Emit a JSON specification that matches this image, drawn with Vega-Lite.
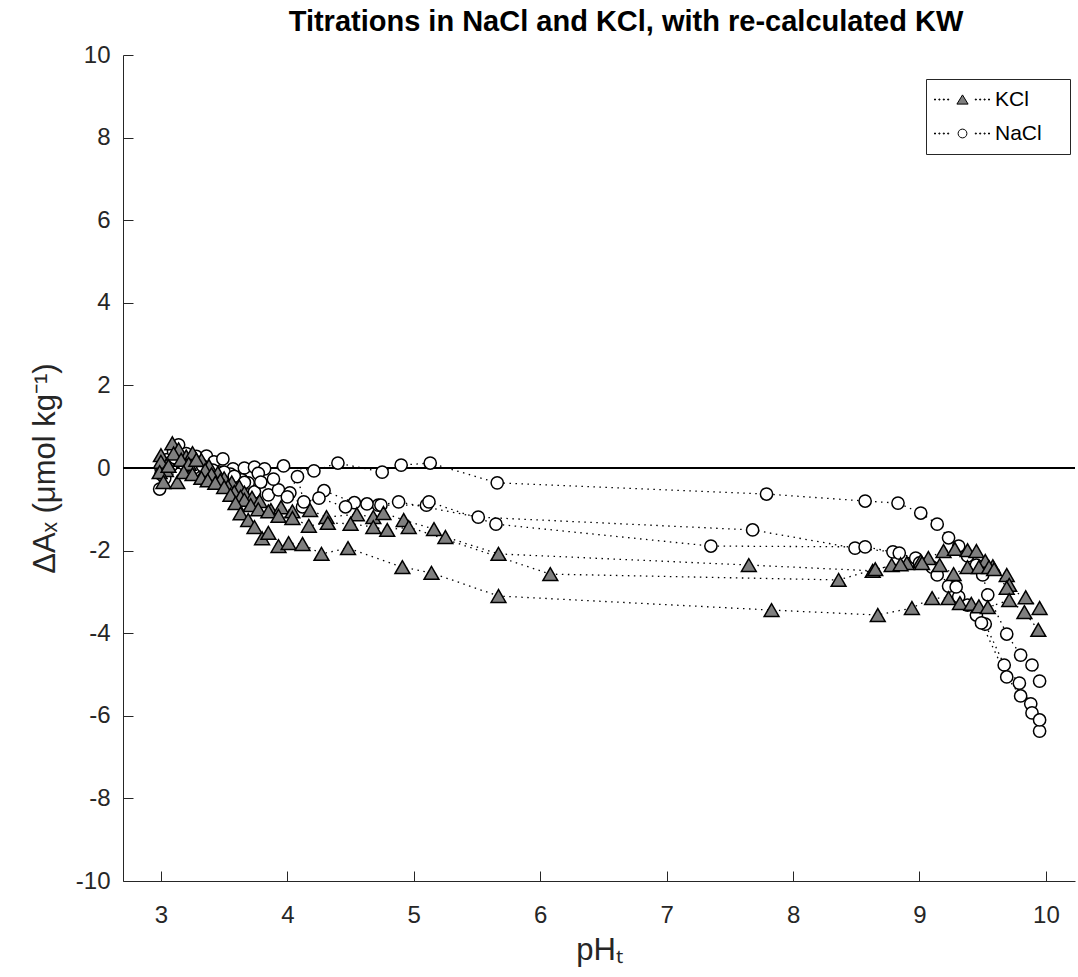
{
  "$schema": "https://vega.github.io/schema/vega-lite/v6.json",
  "width": 952,
  "height": 826,
  "autosize": "none",
  "padding": {"left": 123, "top": 55, "right": 3, "bottom": 96},
  "background": "white",
  "title": {
    "text": "Titrations in NaCl and KCl, with re-calculated KW",
    "fontSize": 29,
    "fontWeight": "bold",
    "font": "Liberation Sans",
    "color": "black",
    "anchor": "middle",
    "offset": 6,
    "dx": 27
  },
  "config": {
    "font": "Liberation Sans",
    "view": {"stroke": null},
    "axis": {
      "domainColor": "#262626",
      "tickColor": "#262626",
      "labelColor": "#262626",
      "titleColor": "#262626",
      "grid": false,
      "labelFontSize": 24,
      "titleFontSize": 31,
      "titleFontWeight": "normal",
      "domainWidth": 1,
      "tickWidth": 1,
      "tickSize": -10
    }
  },
  "data": {
    "values": [
      {"s":"NaCl","t":"N1","i":0,"x":3.00,"y":0.00},
      {"s":"NaCl","t":"N1","i":1,"x":3.05,"y":0.20},
      {"s":"NaCl","t":"N1","i":2,"x":3.10,"y":0.40},
      {"s":"NaCl","t":"N1","i":3,"x":3.14,"y":0.56},
      {"s":"NaCl","t":"N1","i":4,"x":3.20,"y":0.35},
      {"s":"NaCl","t":"N1","i":5,"x":3.28,"y":0.28},
      {"s":"NaCl","t":"N1","i":6,"x":3.36,"y":0.29},
      {"s":"NaCl","t":"N1","i":7,"x":3.42,"y":0.15},
      {"s":"NaCl","t":"N1","i":8,"x":3.49,"y":0.22},
      {"s":"NaCl","t":"N1","i":9,"x":3.57,"y":-0.02},
      {"s":"NaCl","t":"N1","i":10,"x":3.66,"y":0.00},
      {"s":"NaCl","t":"N1","i":11,"x":3.74,"y":0.02},
      {"s":"NaCl","t":"N1","i":12,"x":3.82,"y":-0.02},
      {"s":"NaCl","t":"N1","i":13,"x":3.97,"y":0.05},
      {"s":"NaCl","t":"N1","i":14,"x":4.21,"y":-0.07},
      {"s":"NaCl","t":"N1","i":15,"x":4.40,"y":0.12},
      {"s":"NaCl","t":"N1","i":16,"x":4.75,"y":-0.10},
      {"s":"NaCl","t":"N1","i":17,"x":4.90,"y":0.07},
      {"s":"NaCl","t":"N1","i":18,"x":5.13,"y":0.12},
      {"s":"NaCl","t":"N1","i":19,"x":5.66,"y":-0.36},
      {"s":"NaCl","t":"N1","i":20,"x":7.79,"y":-0.63},
      {"s":"NaCl","t":"N1","i":21,"x":8.57,"y":-0.80},
      {"s":"NaCl","t":"N1","i":22,"x":8.83,"y":-0.85},
      {"s":"NaCl","t":"N1","i":23,"x":9.01,"y":-1.09},
      {"s":"NaCl","t":"N1","i":24,"x":9.14,"y":-1.36},
      {"s":"NaCl","t":"N1","i":25,"x":9.23,"y":-1.69},
      {"s":"NaCl","t":"N1","i":26,"x":9.31,"y":-1.89},
      {"s":"NaCl","t":"N1","i":27,"x":9.38,"y":-2.13},
      {"s":"NaCl","t":"N1","i":28,"x":9.45,"y":-2.35},
      {"s":"NaCl","t":"N1","i":29,"x":9.50,"y":-2.59},
      {"s":"NaCl","t":"N1","i":30,"x":9.54,"y":-3.07},
      {"s":"NaCl","t":"N1","i":31,"x":9.69,"y":-4.02},
      {"s":"NaCl","t":"N1","i":32,"x":9.80,"y":-4.53},
      {"s":"NaCl","t":"N1","i":33,"x":9.89,"y":-4.77},
      {"s":"NaCl","t":"N1","i":34,"x":9.95,"y":-5.16},
      {"s":"NaCl","t":"N2","i":0,"x":2.99,"y":-0.51},
      {"s":"NaCl","t":"N2","i":1,"x":3.03,"y":-0.25},
      {"s":"NaCl","t":"N2","i":2,"x":3.08,"y":0.05},
      {"s":"NaCl","t":"N2","i":3,"x":3.15,"y":0.15},
      {"s":"NaCl","t":"N2","i":4,"x":3.22,"y":0.05},
      {"s":"NaCl","t":"N2","i":5,"x":3.30,"y":0.10},
      {"s":"NaCl","t":"N2","i":6,"x":3.38,"y":-0.05},
      {"s":"NaCl","t":"N2","i":7,"x":3.46,"y":-0.10},
      {"s":"NaCl","t":"N2","i":8,"x":3.55,"y":-0.15},
      {"s":"NaCl","t":"N2","i":9,"x":3.64,"y":-0.29},
      {"s":"NaCl","t":"N2","i":10,"x":3.69,"y":-0.36},
      {"s":"NaCl","t":"N2","i":11,"x":3.77,"y":-0.13},
      {"s":"NaCl","t":"N2","i":12,"x":3.85,"y":-0.65},
      {"s":"NaCl","t":"N2","i":13,"x":3.93,"y":-0.53},
      {"s":"NaCl","t":"N2","i":14,"x":4.02,"y":-0.60},
      {"s":"NaCl","t":"N2","i":15,"x":4.12,"y":-0.94},
      {"s":"NaCl","t":"N2","i":16,"x":4.29,"y":-0.55},
      {"s":"NaCl","t":"N2","i":17,"x":4.53,"y":-0.84},
      {"s":"NaCl","t":"N2","i":18,"x":4.72,"y":-0.90},
      {"s":"NaCl","t":"N2","i":19,"x":4.88,"y":-0.82},
      {"s":"NaCl","t":"N2","i":20,"x":5.51,"y":-1.19},
      {"s":"NaCl","t":"N2","i":21,"x":7.68,"y":-1.50},
      {"s":"NaCl","t":"N2","i":22,"x":8.49,"y":-1.94},
      {"s":"NaCl","t":"N2","i":23,"x":8.79,"y":-2.03},
      {"s":"NaCl","t":"N2","i":24,"x":8.97,"y":-2.18},
      {"s":"NaCl","t":"N2","i":25,"x":9.10,"y":-2.40},
      {"s":"NaCl","t":"N2","i":26,"x":9.23,"y":-2.86},
      {"s":"NaCl","t":"N2","i":27,"x":9.31,"y":-3.12},
      {"s":"NaCl","t":"N2","i":28,"x":9.45,"y":-3.56},
      {"s":"NaCl","t":"N2","i":29,"x":9.52,"y":-3.78},
      {"s":"NaCl","t":"N2","i":30,"x":9.67,"y":-4.77},
      {"s":"NaCl","t":"N2","i":31,"x":9.79,"y":-5.21},
      {"s":"NaCl","t":"N2","i":32,"x":9.88,"y":-5.71},
      {"s":"NaCl","t":"N2","i":33,"x":9.95,"y":-6.37},
      {"s":"NaCl","t":"N3","i":0,"x":3.00,"y":-0.15},
      {"s":"NaCl","t":"N3","i":1,"x":3.05,"y":0.10},
      {"s":"NaCl","t":"N3","i":2,"x":3.11,"y":0.25},
      {"s":"NaCl","t":"N3","i":3,"x":3.18,"y":0.10},
      {"s":"NaCl","t":"N3","i":4,"x":3.26,"y":0.00},
      {"s":"NaCl","t":"N3","i":5,"x":3.33,"y":0.05},
      {"s":"NaCl","t":"N3","i":6,"x":3.41,"y":-0.05},
      {"s":"NaCl","t":"N3","i":7,"x":3.50,"y":-0.10},
      {"s":"NaCl","t":"N3","i":8,"x":3.58,"y":-0.20},
      {"s":"NaCl","t":"N3","i":9,"x":3.66,"y":-0.35},
      {"s":"NaCl","t":"N3","i":10,"x":3.74,"y":-0.58},
      {"s":"NaCl","t":"N3","i":11,"x":3.79,"y":-0.34},
      {"s":"NaCl","t":"N3","i":12,"x":3.89,"y":-0.27},
      {"s":"NaCl","t":"N3","i":13,"x":4.00,"y":-0.70},
      {"s":"NaCl","t":"N3","i":14,"x":4.08,"y":-0.21},
      {"s":"NaCl","t":"N3","i":15,"x":4.13,"y":-0.82},
      {"s":"NaCl","t":"N3","i":16,"x":4.25,"y":-0.73},
      {"s":"NaCl","t":"N3","i":17,"x":4.46,"y":-0.94},
      {"s":"NaCl","t":"N3","i":18,"x":4.63,"y":-0.87},
      {"s":"NaCl","t":"N3","i":19,"x":4.74,"y":-0.90},
      {"s":"NaCl","t":"N3","i":20,"x":5.10,"y":-0.90},
      {"s":"NaCl","t":"N3","i":21,"x":5.12,"y":-0.82},
      {"s":"NaCl","t":"N3","i":22,"x":5.65,"y":-1.36},
      {"s":"NaCl","t":"N3","i":23,"x":7.35,"y":-1.89},
      {"s":"NaCl","t":"N3","i":24,"x":8.57,"y":-1.91},
      {"s":"NaCl","t":"N3","i":25,"x":8.84,"y":-2.06},
      {"s":"NaCl","t":"N3","i":26,"x":9.00,"y":-2.30},
      {"s":"NaCl","t":"N3","i":27,"x":9.14,"y":-2.59},
      {"s":"NaCl","t":"N3","i":28,"x":9.29,"y":-2.88},
      {"s":"NaCl","t":"N3","i":29,"x":9.38,"y":-3.32},
      {"s":"NaCl","t":"N3","i":30,"x":9.49,"y":-3.75},
      {"s":"NaCl","t":"N3","i":31,"x":9.69,"y":-5.06},
      {"s":"NaCl","t":"N3","i":32,"x":9.80,"y":-5.52},
      {"s":"NaCl","t":"N3","i":33,"x":9.89,"y":-5.93},
      {"s":"NaCl","t":"N3","i":34,"x":9.95,"y":-6.10},
      {"s":"KCl","t":"K1","i":0,"x":3.00,"y":0.31},
      {"s":"KCl","t":"K1","i":1,"x":3.05,"y":0.10},
      {"s":"KCl","t":"K1","i":2,"x":3.09,"y":0.60},
      {"s":"KCl","t":"K1","i":3,"x":3.14,"y":0.45},
      {"s":"KCl","t":"K1","i":4,"x":3.20,"y":0.28},
      {"s":"KCl","t":"K1","i":5,"x":3.25,"y":0.36},
      {"s":"KCl","t":"K1","i":6,"x":3.32,"y":0.19},
      {"s":"KCl","t":"K1","i":7,"x":3.38,"y":0.05},
      {"s":"KCl","t":"K1","i":8,"x":3.45,"y":-0.12},
      {"s":"KCl","t":"K1","i":9,"x":3.50,"y":-0.25},
      {"s":"KCl","t":"K1","i":10,"x":3.56,"y":-0.35},
      {"s":"KCl","t":"K1","i":11,"x":3.62,"y":-0.45},
      {"s":"KCl","t":"K1","i":12,"x":3.66,"y":-0.60},
      {"s":"KCl","t":"K1","i":13,"x":3.72,"y":-0.72},
      {"s":"KCl","t":"K1","i":14,"x":3.78,"y":-0.80},
      {"s":"KCl","t":"K1","i":15,"x":3.87,"y":-1.02},
      {"s":"KCl","t":"K1","i":16,"x":3.95,"y":-0.95},
      {"s":"KCl","t":"K1","i":17,"x":4.04,"y":-1.05},
      {"s":"KCl","t":"K1","i":18,"x":4.18,"y":-1.02},
      {"s":"KCl","t":"K1","i":19,"x":4.31,"y":-1.19},
      {"s":"KCl","t":"K1","i":20,"x":4.55,"y":-1.12},
      {"s":"KCl","t":"K1","i":21,"x":4.68,"y":-1.19},
      {"s":"KCl","t":"K1","i":22,"x":4.76,"y":-1.09},
      {"s":"KCl","t":"K1","i":23,"x":4.92,"y":-1.26},
      {"s":"KCl","t":"K1","i":24,"x":5.16,"y":-1.48},
      {"s":"KCl","t":"K1","i":25,"x":5.25,"y":-1.67},
      {"s":"KCl","t":"K1","i":26,"x":5.67,"y":-2.08},
      {"s":"KCl","t":"K1","i":27,"x":7.65,"y":-2.35},
      {"s":"KCl","t":"K1","i":28,"x":8.63,"y":-2.49},
      {"s":"KCl","t":"K1","i":29,"x":8.78,"y":-2.35},
      {"s":"KCl","t":"K1","i":30,"x":8.90,"y":-2.30},
      {"s":"KCl","t":"K1","i":31,"x":9.01,"y":-2.25},
      {"s":"KCl","t":"K1","i":32,"x":9.07,"y":-2.18},
      {"s":"KCl","t":"K1","i":33,"x":9.19,"y":-2.01},
      {"s":"KCl","t":"K1","i":34,"x":9.28,"y":-1.96},
      {"s":"KCl","t":"K1","i":35,"x":9.38,"y":-1.99},
      {"s":"KCl","t":"K1","i":36,"x":9.45,"y":-2.01},
      {"s":"KCl","t":"K1","i":37,"x":9.52,"y":-2.25},
      {"s":"KCl","t":"K1","i":38,"x":9.58,"y":-2.38},
      {"s":"KCl","t":"K1","i":39,"x":9.69,"y":-2.59},
      {"s":"KCl","t":"K1","i":40,"x":9.71,"y":-2.83},
      {"s":"KCl","t":"K2","i":0,"x":3.00,"y":0.15},
      {"s":"KCl","t":"K2","i":1,"x":3.04,"y":-0.05},
      {"s":"KCl","t":"K2","i":2,"x":3.10,"y":0.35},
      {"s":"KCl","t":"K2","i":3,"x":3.16,"y":0.20},
      {"s":"KCl","t":"K2","i":4,"x":3.22,"y":0.10},
      {"s":"KCl","t":"K2","i":5,"x":3.28,"y":0.20},
      {"s":"KCl","t":"K2","i":6,"x":3.35,"y":-0.05},
      {"s":"KCl","t":"K2","i":7,"x":3.40,"y":-0.15},
      {"s":"KCl","t":"K2","i":8,"x":3.47,"y":-0.30},
      {"s":"KCl","t":"K2","i":9,"x":3.53,"y":-0.45},
      {"s":"KCl","t":"K2","i":10,"x":3.58,"y":-0.58},
      {"s":"KCl","t":"K2","i":11,"x":3.63,"y":-0.70},
      {"s":"KCl","t":"K2","i":12,"x":3.66,"y":-0.77},
      {"s":"KCl","t":"K2","i":13,"x":3.71,"y":-0.90},
      {"s":"KCl","t":"K2","i":14,"x":3.77,"y":-1.00},
      {"s":"KCl","t":"K2","i":15,"x":3.85,"y":-1.05},
      {"s":"KCl","t":"K2","i":16,"x":3.93,"y":-1.16},
      {"s":"KCl","t":"K2","i":17,"x":4.04,"y":-1.21},
      {"s":"KCl","t":"K2","i":18,"x":4.17,"y":-1.40},
      {"s":"KCl","t":"K2","i":19,"x":4.32,"y":-1.33},
      {"s":"KCl","t":"K2","i":20,"x":4.50,"y":-1.35},
      {"s":"KCl","t":"K2","i":21,"x":4.68,"y":-1.43},
      {"s":"KCl","t":"K2","i":22,"x":4.79,"y":-1.50},
      {"s":"KCl","t":"K2","i":23,"x":4.96,"y":-1.43},
      {"s":"KCl","t":"K2","i":24,"x":6.08,"y":-2.57},
      {"s":"KCl","t":"K2","i":25,"x":8.36,"y":-2.71},
      {"s":"KCl","t":"K2","i":26,"x":8.65,"y":-2.45},
      {"s":"KCl","t":"K2","i":27,"x":8.85,"y":-2.33},
      {"s":"KCl","t":"K2","i":28,"x":9.02,"y":-2.30},
      {"s":"KCl","t":"K2","i":29,"x":9.16,"y":-2.35},
      {"s":"KCl","t":"K2","i":30,"x":9.27,"y":-2.57},
      {"s":"KCl","t":"K2","i":31,"x":9.38,"y":-2.40},
      {"s":"KCl","t":"K2","i":32,"x":9.47,"y":-2.40},
      {"s":"KCl","t":"K2","i":33,"x":9.55,"y":-2.40},
      {"s":"KCl","t":"K2","i":34,"x":9.59,"y":-2.45},
      {"s":"KCl","t":"K2","i":35,"x":9.69,"y":-2.90},
      {"s":"KCl","t":"K2","i":36,"x":9.84,"y":-3.13},
      {"s":"KCl","t":"K2","i":37,"x":9.95,"y":-3.39},
      {"s":"KCl","t":"K3","i":0,"x":2.99,"y":-0.10},
      {"s":"KCl","t":"K3","i":1,"x":3.02,"y":-0.34},
      {"s":"KCl","t":"K3","i":2,"x":3.06,"y":0.05},
      {"s":"KCl","t":"K3","i":3,"x":3.13,"y":-0.34},
      {"s":"KCl","t":"K3","i":4,"x":3.18,"y":-0.10},
      {"s":"KCl","t":"K3","i":5,"x":3.25,"y":-0.15},
      {"s":"KCl","t":"K3","i":6,"x":3.32,"y":-0.24},
      {"s":"KCl","t":"K3","i":7,"x":3.37,"y":-0.30},
      {"s":"KCl","t":"K3","i":8,"x":3.43,"y":-0.36},
      {"s":"KCl","t":"K3","i":9,"x":3.50,"y":-0.46},
      {"s":"KCl","t":"K3","i":10,"x":3.55,"y":-0.65},
      {"s":"KCl","t":"K3","i":11,"x":3.59,"y":-0.85},
      {"s":"KCl","t":"K3","i":12,"x":3.63,"y":-1.10},
      {"s":"KCl","t":"K3","i":13,"x":3.69,"y":-1.26},
      {"s":"KCl","t":"K3","i":14,"x":3.74,"y":-1.43},
      {"s":"KCl","t":"K3","i":15,"x":3.80,"y":-1.70},
      {"s":"KCl","t":"K3","i":16,"x":3.85,"y":-1.57},
      {"s":"KCl","t":"K3","i":17,"x":3.93,"y":-1.89},
      {"s":"KCl","t":"K3","i":18,"x":4.01,"y":-1.82},
      {"s":"KCl","t":"K3","i":19,"x":4.12,"y":-1.84},
      {"s":"KCl","t":"K3","i":20,"x":4.27,"y":-2.08},
      {"s":"KCl","t":"K3","i":21,"x":4.48,"y":-1.94},
      {"s":"KCl","t":"K3","i":22,"x":4.91,"y":-2.40},
      {"s":"KCl","t":"K3","i":23,"x":5.14,"y":-2.54},
      {"s":"KCl","t":"K3","i":24,"x":5.67,"y":-3.10},
      {"s":"KCl","t":"K3","i":25,"x":7.83,"y":-3.44},
      {"s":"KCl","t":"K3","i":26,"x":8.67,"y":-3.56},
      {"s":"KCl","t":"K3","i":27,"x":8.94,"y":-3.39},
      {"s":"KCl","t":"K3","i":28,"x":9.10,"y":-3.15},
      {"s":"KCl","t":"K3","i":29,"x":9.23,"y":-3.15},
      {"s":"KCl","t":"K3","i":30,"x":9.32,"y":-3.27},
      {"s":"KCl","t":"K3","i":31,"x":9.41,"y":-3.29},
      {"s":"KCl","t":"K3","i":32,"x":9.47,"y":-3.35},
      {"s":"KCl","t":"K3","i":33,"x":9.54,"y":-3.37},
      {"s":"KCl","t":"K3","i":34,"x":9.71,"y":-3.20},
      {"s":"KCl","t":"K3","i":35,"x":9.83,"y":-3.49},
      {"s":"KCl","t":"K3","i":36,"x":9.94,"y":-3.92}
    ]
  },
  "encoding": {
    "x": {
      "field": "x", "type": "quantitative",
      "scale": {"domain": [2.7, 10.23], "nice": false, "zero": false},
      "axis": {"values": [3,4,5,6,7,8,9,10], "title": "pHₜ", "labelPadding": 32, "titlePadding": 8}
    },
    "y": {
      "field": "y", "type": "quantitative",
      "scale": {"domain": [-10, 10], "nice": false},
      "axis": {
        "values": [-10,-8,-6,-4,-2,0,2,4,6,8,10],
        "title": "ΔAₓ (μmol kg⁻¹)",
        "labelPadding": 23, "titlePadding": 14,
        "labelExpr": "(datum.value < 0 ? '-' : '') + abs(datum.value)"
      }
    }
  },
  "layer": [
    {
      "mark": {"type": "rule", "color": "black", "strokeWidth": 2},
      "encoding": {"y": {"datum": 0}, "x": null}
    },
    {
      "mark": {"type": "line", "color": "black", "strokeWidth": 1.3, "strokeDash": [1.5, 4.5]},
      "encoding": {
        "detail": {"field": "t", "type": "nominal"},
        "order": {"field": "i", "type": "quantitative"}
      }
    },
    {
      "transform": [{"filter": "datum.s === 'NaCl'"}],
      "mark": {"type": "point", "shape": "circle", "filled": true, "fill": "white", "stroke": "black", "strokeWidth": 1.5, "opacity": 1, "size": 150}
    },
    {
      "transform": [{"filter": "datum.s === 'KCl'"}],
      "mark": {"type": "point", "shape": "triangle-up", "filled": true, "fill": "#7f7f7f", "stroke": "black", "strokeWidth": 1.5, "opacity": 1, "size": 220}
    },
    {
      "transform": [{"filter": "datum.i === 0 && (datum.t === 'N1' || datum.t === 'K1')"}],
      "mark": {"type": "point", "filled": true, "opacity": 0, "stroke": "black", "strokeWidth": 1},
      "encoding": {
        "shape": {
          "field": "s", "type": "nominal",
          "scale": {
            "domain": ["KCl", "NaCl"],
            "range": [
              "M0,-1.15L1.4,1.15L-1.4,1.15Z M-7,-0.12h0.25v0.25h-0.25Z M-5.9,-0.12h0.25v0.25h-0.25Z M-4.8,-0.12h0.25v0.25h-0.25Z M-3.7,-0.12h0.25v0.25h-0.25Z M3.2,-0.12h0.25v0.25h-0.25Z M4.3,-0.12h0.25v0.25h-0.25Z M5.4,-0.12h0.25v0.25h-0.25Z M6.5,-0.12h0.25v0.25h-0.25Z",
              "M-1.1,0A1.1,1.1,0,1,1,1.1,0A1.1,1.1,0,1,1,-1.1,0Z M-7,-0.12h0.25v0.25h-0.25Z M-5.9,-0.12h0.25v0.25h-0.25Z M-4.8,-0.12h0.25v0.25h-0.25Z M-3.7,-0.12h0.25v0.25h-0.25Z M3.2,-0.12h0.25v0.25h-0.25Z M4.3,-0.12h0.25v0.25h-0.25Z M5.4,-0.12h0.25v0.25h-0.25Z M6.5,-0.12h0.25v0.25h-0.25Z"
            ]
          },
          "legend": {
            "title": null, "orient": "none", "legendX": 803, "legendY": 24,
            "strokeColor": "#262626", "fillColor": "white", "padding": 10,
            "labelFontSize": 21, "labelColor": "black", "symbolSize": 64,
            "symbolOffset": 16, "labelOffset": 22, "rowPadding": 12,
            "symbolStrokeWidth": 1, "symbolOpacity": 1,
            "labelExpr": "datum.label + '\u00a0\u00a0\u00a0\u200b'"
          }
        },
        "fill": {
          "field": "s", "type": "nominal",
          "scale": {"domain": ["KCl", "NaCl"], "range": ["#7f7f7f", "#ffffff"]},
          "legend": {
            "title": null, "orient": "none", "legendX": 803, "legendY": 24,
            "strokeColor": "#262626", "fillColor": "white", "padding": 10,
            "labelFontSize": 21, "labelColor": "black", "symbolSize": 64,
            "symbolOffset": 16, "labelOffset": 22, "rowPadding": 12,
            "symbolStrokeWidth": 1, "symbolOpacity": 1,
            "labelExpr": "datum.label + '\u00a0\u00a0\u00a0\u200b'"
          }
        }
      }
    }
  ]
}
